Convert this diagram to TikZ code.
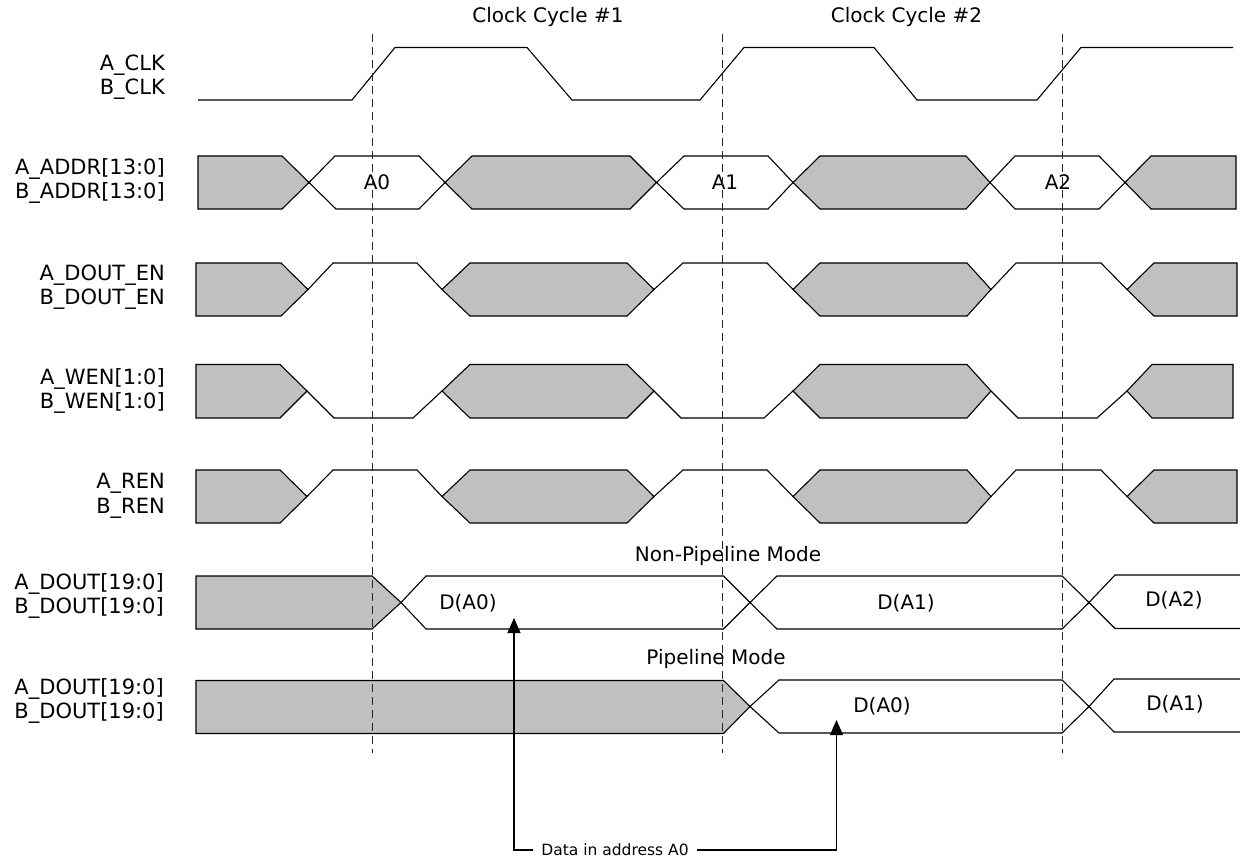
\documentclass[tikz,border=0pt]{standalone}
\usepackage{fontspec}
\setmainfont{DejaVu Sans}
\usetikzlibrary{arrows.meta}
\definecolor{busgray}{RGB}{192,192,192}
\begin{document}
\begin{tikzpicture}[x=1pt,y=-1pt,
  wave/.style={draw=black,line width=1.1pt,line join=miter},
  busfill/.style={wave,fill=busgray},
  sigtext/.style={font=\fontsize{20}{24}\selectfont,inner sep=0pt},
  lbl/.style={font=\fontsize{21}{24.5}\selectfont,align=right,anchor=east,inner sep=0pt},
  clkline/.style={draw=black!85,line width=1pt,dash pattern=on 8pt off 5pt},
  ptr/.style={draw=black,line width=1.1pt,-{Triangle[length=15pt,width=13pt]}}]
\useasboundingbox (0,0) rectangle (1240,858);
\fill[white] (0,0) rectangle (1240,858);

% titles
\node[sigtext] (cc1) at (548,17) {Clock Cycle \#1};
\node[sigtext] (cc2) at (906.5,17) {Clock Cycle \#2};

% labels
\node[lbl] (lclk) at (165,77) {A\_CLK\\B\_CLK};
\node[lbl] (laddr) at (165,181) {A\_ADDR[13:0]\\B\_ADDR[13:0]};
\node[lbl] (len) at (165,287) {A\_DOUT\_EN\\B\_DOUT\_EN};
\node[lbl] (lwen) at (165,391) {A\_WEN[1:0]\\B\_WEN[1:0]};
\node[lbl] (lren) at (165,496) {A\_REN\\B\_REN};
\node[lbl] (ldo1) at (164,596) {A\_DOUT[19:0]\\B\_DOUT[19:0]};
\node[lbl] (ldo2) at (164,701) {A\_DOUT[19:0]\\B\_DOUT[19:0]};

% clock
\draw[wave] (198,100) -- (352,100) -- (395,47.5) -- (527,47.5) -- (572,100) -- (700,100)
  -- (744,47.5) -- (874,47.5) -- (917,100) -- (1037,100) -- (1081,47.5) -- (1233,47.5);

% ADDR row
\draw[busfill] (198,156) -- (282,156) -- (309,182.5) -- (282,209) -- (198,209) -- cycle;
\draw[wave] (309,182.5) -- (335,156) -- (419,156) -- (445,182.5) -- (419,209) -- (336,209) -- cycle;
\draw[busfill] (445,182.5) -- (472,156) -- (630,156) -- (656.5,182.5) -- (630,209) -- (472,209) -- cycle;
\draw[wave] (656.5,182.5) -- (684,156) -- (768,156) -- (793,182.5) -- (768,209) -- (684,209) -- cycle;
\draw[busfill] (793,182.5) -- (820,156) -- (966,156) -- (990,182.5) -- (966,209) -- (820,209) -- cycle;
\draw[wave] (990,182.5) -- (1015,156) -- (1099,156) -- (1125,182.5) -- (1099,209) -- (1015,209) -- cycle;
\draw[busfill] (1125,182.5) -- (1151,156) -- (1236,156) -- (1236,209) -- (1151,209) -- cycle;
\node[sigtext] (a0) at (377,182) {A0};
\node[sigtext] (a1) at (725,182) {A1};
\node[sigtext] (a2) at (1058,182) {A2};

% DOUT_EN row
\draw[busfill] (196,263) -- (281,263) -- (308,289.5) -- (281,316) -- (196,316) -- cycle;
\draw[wave] (308,289.5) -- (333,263) -- (417,263) -- (442,289.5);
\draw[busfill] (442,289.5) -- (470,263) -- (627,263) -- (654,289.5) -- (627,316) -- (470,316) -- cycle;
\draw[wave] (654,289.5) -- (683,263) -- (767,263) -- (793,289.5);
\draw[busfill] (793,289.5) -- (820,263) -- (967,263) -- (991,289.5) -- (967,316) -- (820,316) -- cycle;
\draw[wave] (991,289.5) -- (1016,263) -- (1101,263) -- (1127,289.5);
\draw[busfill] (1127,289.5) -- (1154,263) -- (1237,263) -- (1237,316) -- (1154,316) -- cycle;

% WEN row
\draw[busfill] (196,364.5) -- (280,364.5) -- (307,391) -- (280,418) -- (196,418) -- cycle;
\draw[wave] (307,391) -- (334,418) -- (413,418) -- (442,391);
\draw[busfill] (442,391) -- (470,364.5) -- (627,364.5) -- (654,391) -- (627,418) -- (470,418) -- cycle;
\draw[wave] (654,391) -- (681,418) -- (764,418) -- (793,391);
\draw[busfill] (793,391) -- (820,364.5) -- (967,364.5) -- (991,391) -- (967,418) -- (820,418) -- cycle;
\draw[wave] (991,391) -- (1018,418) -- (1097,418) -- (1127,391);
\draw[busfill] (1127,391) -- (1152,364.5) -- (1233,364.5) -- (1233,418) -- (1152,418) -- cycle;

% REN row
\draw[busfill] (196,470) -- (280,470) -- (307,496.5) -- (280,523) -- (196,523) -- cycle;
\draw[wave] (307,496.5) -- (333,470) -- (417,470) -- (442,496.5);
\draw[busfill] (442,496.5) -- (470,470) -- (627,470) -- (654,496.5) -- (627,523) -- (470,523) -- cycle;
\draw[wave] (654,496.5) -- (683,470) -- (767,470) -- (793,496.5);
\draw[busfill] (793,496.5) -- (820,470) -- (967,470) -- (991,496.5) -- (967,523) -- (820,523) -- cycle;
\draw[wave] (991,496.5) -- (1016,470) -- (1101,470) -- (1127,496.5);
\draw[busfill] (1127,496.5) -- (1154,470) -- (1237,470) -- (1237,523) -- (1154,523) -- cycle;

% DOUT non-pipeline
\node[sigtext] (npm) at (728,556) {Non-Pipeline Mode};
\draw[busfill] (196,576) -- (372,576) -- (401,602.5) -- (372,629) -- (196,629) -- cycle;
\draw[wave] (401,602.5) -- (426,576) -- (723.5,576) -- (750,602.5) -- (723.5,629) -- (426,629) -- cycle;
\draw[wave] (750,602.5) -- (777,576) -- (1062,576) -- (1089,602.5) -- (1062,629) -- (777,629) -- cycle;
\draw[wave] (1240,575) -- (1115,575) -- (1089,602.5) -- (1115,628.5) -- (1240,628.5);
\node[sigtext] (dn0) at (468,603) {D(A0)};
\node[sigtext] (dn1) at (906,603) {D(A1)};
\node[sigtext] (dn2) at (1174,600) {D(A2)};

% DOUT pipeline
\node[sigtext] (pm) at (716,659) {Pipeline Mode};
\draw[busfill] (196,680.5) -- (723.5,680.5) -- (750,706.5) -- (723.5,733.5) -- (196,733.5) -- cycle;
\draw[wave] (750,706.5) -- (779,680) -- (1062,680) -- (1089,706.5) -- (1062,733) -- (779,733) -- cycle;
\draw[wave] (1240,679) -- (1114,679) -- (1089,706.5) -- (1114,732) -- (1240,732);
\node[sigtext] (dp0) at (882,706) {D(A0)};
\node[sigtext] (dp1) at (1175,704) {D(A1)};

% cycle markers
\draw[clkline] (372.5,34) -- (372.5,753);
\draw[clkline] (722.5,34) -- (722.5,753);
\draw[clkline] (1062.5,34) -- (1062.5,753);

% data pointer
\coordinate (tip1) at (514,618);
\coordinate (tip2) at (836.5,720);
\node[font=\fontsize{15.5}{18}\selectfont,inner xsep=8pt,inner ysep=0pt] (dlab) at (615,850) {Data in address A0};
\draw[ptr] (dlab.west) -| (tip1);
\draw[ptr] (dlab.east) -| (tip2);
\end{tikzpicture}
\end{document}
